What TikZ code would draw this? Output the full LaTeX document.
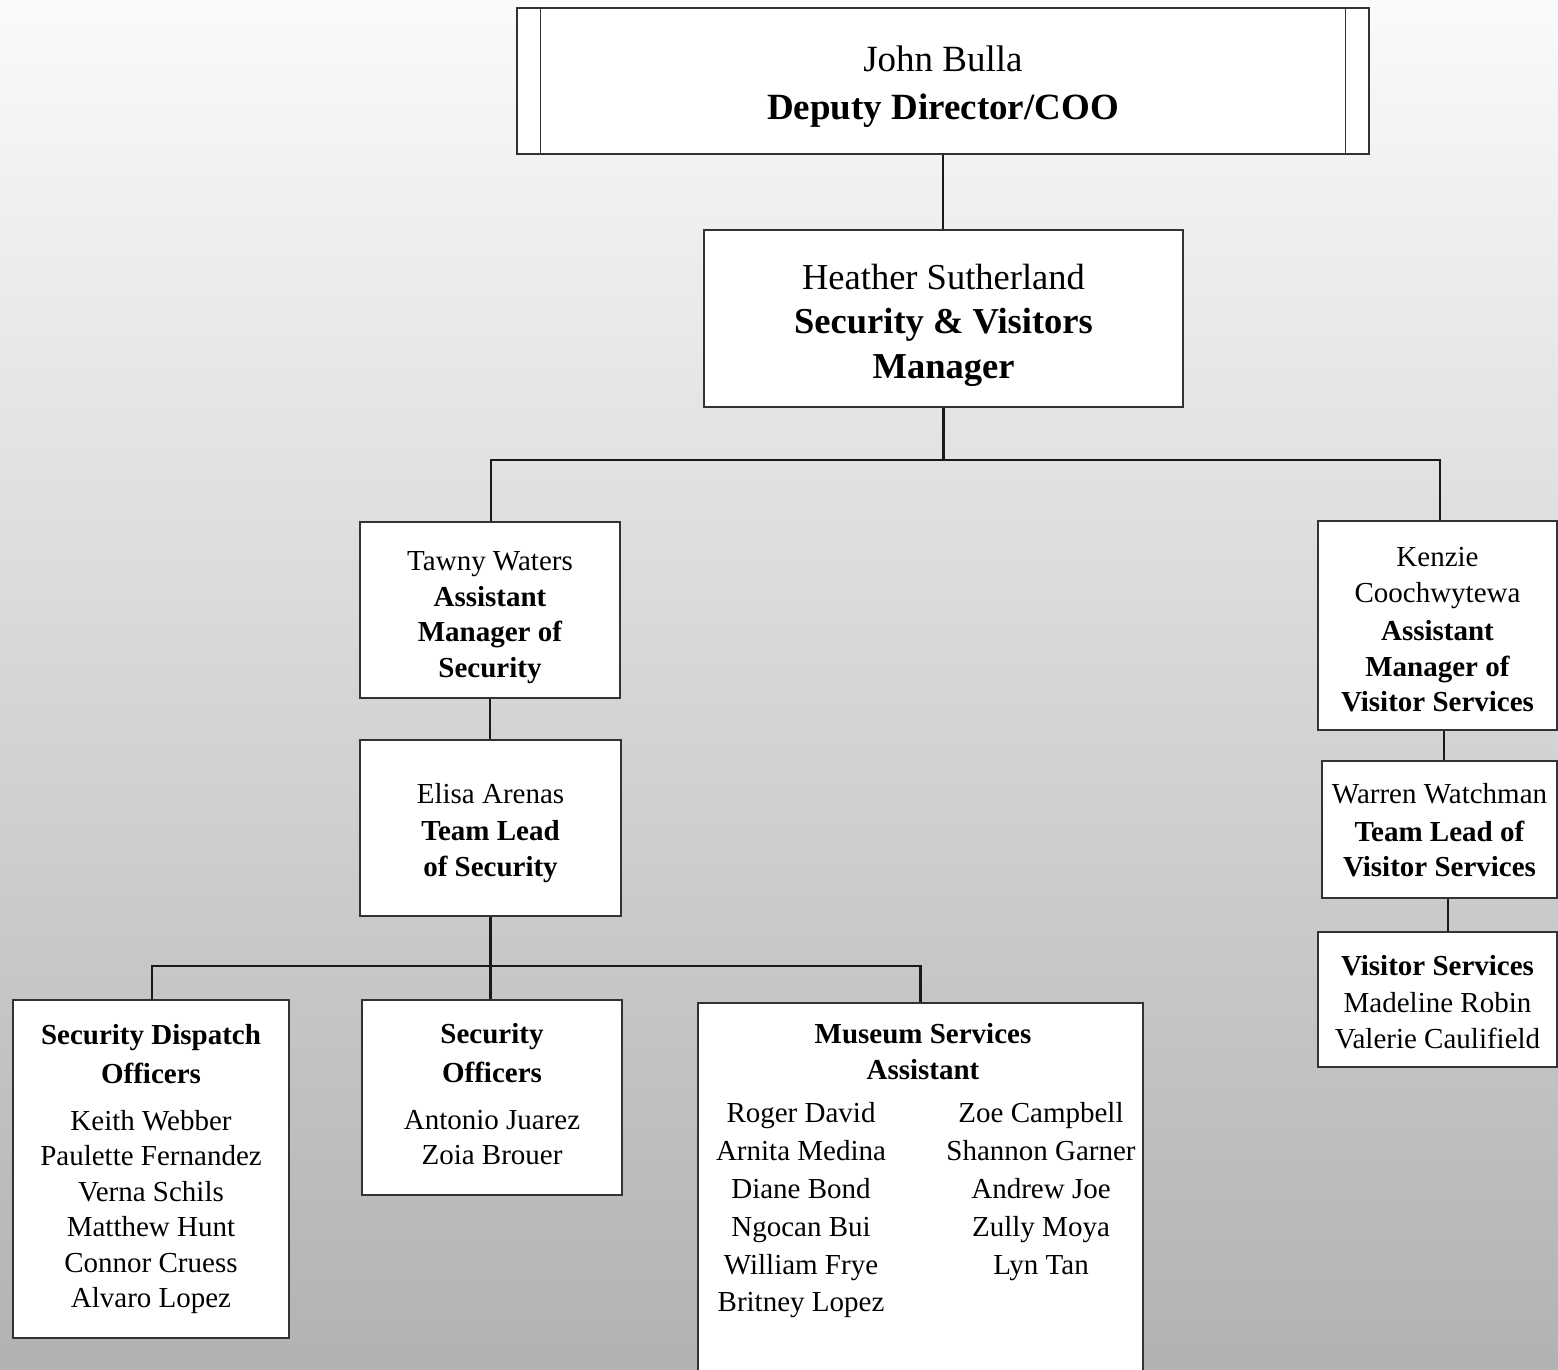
\documentclass[tikz,border=0pt]{standalone}
\usepackage{fontspec}
\setmainfont{Liberation Serif}
\usetikzlibrary{calc}
\newcommand\uprule[1]{\rule{0pt}{#1}}
\newcommand\dnrule[1]{\rule[-#1]{0pt}{0pt}}
\begin{document}
\begin{tikzpicture}[x=1pt,y=-1pt,
  box/.style={draw=black!80, line width=1.3pt, fill=white, align=center, inner sep=0pt,
              font=\fontsize{29}{35.5}\selectfont},
  plain/.style={align=center, inner sep=0pt},
  conn/.style={line width=2.2pt, draw=black!90},
  boxline/.style={line width=1.3pt, draw=black!80}]
\useasboundingbox (0,0) rectangle (1558,1369);
% background gradient
\foreach \i in {0,...,136}{
  \pgfmathsetmacro\p{2+28.2*\i/136}
  \fill[black!\p] (0,\i*10) rectangle (1558,\i*10+10.6);
}
% boxes
\node[box, minimum width=852pt, minimum height=146pt, font=\fontsize{37}{48}\selectfont] (john) at (943,81)
  {\uprule{37pt}John Bulla\\\textbf{Deputy Director/COO}};
\draw[boxline] ($(john.north west)+(24,0)$) -- ($(john.south west)+(24,0)$);
\draw[boxline] ($(john.north east)+(-24,0)$) -- ($(john.south east)+(-24,0)$);

\node[box, minimum width=479pt, minimum height=177pt, font=\fontsize{36.5}{44.5}\selectfont] (heather) at (943.5,318.5)
  {\uprule{39pt}Heather Sutherland\\\textbf{Security \& Visitors}\\\textbf{Manager}};

\node[box, minimum width=260pt, minimum height=176pt] (tawny) at (490,610)
  {\uprule{34pt}Tawny Waters\\\textbf{Assistant}\\\textbf{Manager of}\\\textbf{Security}};

\node[box, minimum width=261pt, minimum height=176pt] (elisa) at (490.5,828)
  {\uprule{30pt}Elisa Arenas\\[2pt]\textbf{Team Lead}\\\textbf{of Security}};

\node[box, minimum width=239pt, minimum height=209pt] (kenzie) at (1437.5,625.5)
  {\uprule{28pt}Kenzie\\Coochwytewa\\[3pt]\textbf{Assistant}\\\textbf{Manager of}\\\textbf{Visitor Services}};

\node[box, minimum width=235pt, minimum height=137pt] (warren) at (1439.5,829.5)
  {\uprule{22pt}Warren Watchman\\[2pt]\textbf{Team Lead of}\\\textbf{Visitor Services}};

\node[box, minimum width=239pt, minimum height=135pt] (visitor) at (1437.5,999.5)
  {\uprule{25pt}\textbf{Visitor Services}\\[2pt]Madeline Robin\\Valerie Caulifield};

\node[box, minimum width=276pt, minimum height=338pt] (dispatch) at (151,1169)
  {\textbf{Security Dispatch}\\[3.5pt]\textbf{Officers}\\[11.5pt]Keith Webber\\Paulette Fernandez\\Verna Schils\\Matthew Hunt\\Connor Cruess\\Alvaro Lopez};

\node[box, minimum width=260pt, minimum height=195pt] (secoff) at (492,1097.5)
  {\textbf{Security}\\[3.5pt]\textbf{Officers}\\[11.5pt]Antonio Juarez\\Zoia Brouer\dnrule{7pt}};

\node[box, minimum width=445pt, minimum height=397pt] (museum) at (920.5,1201.5) {};
\node[plain, anchor=north, font=\fontsize{29}{36}\selectfont] (mustitle) at (923,1023.5)
  {\textbf{Museum Services}\\\textbf{Assistant}};
\node[plain, anchor=north, font=\fontsize{29}{37.8}\selectfont] (musleft) at (801,1102.5)
  {Roger David\\Arnita Medina\\Diane Bond\\Ngocan Bui\\William Frye\\Britney Lopez};
\node[plain, anchor=north, font=\fontsize{29}{37.8}\selectfont] (musright) at (1041,1102.5)
  {Zoe Campbell\\Shannon Garner\\Andrew Joe\\Zully Moya\\Lyn Tan};

% connectors
\draw[conn] (john.south) -- (john.south |- heather.north);
\path (heather.south) ++(0,52) coordinate (j1);
\draw[conn] (heather.south) -- (j1);
\draw[conn] ([xshift=1pt]tawny.north) |- (j1) -| ([xshift=2.5pt]kenzie.north);
\draw[conn] (tawny.south) -- (tawny.south |- elisa.north);
\path (elisa.south) ++(0,49) coordinate (j2);
\draw[conn] (elisa.south) -- (j2);
\draw[conn] ([xshift=1pt]dispatch.north) |- (j2) -| (museum.north);
\draw[conn] (j2) -- (j2 |- secoff.north);
\draw[conn] ([xshift=6.5pt]kenzie.south) -- ([xshift=6.5pt]kenzie.south |- warren.north);
\draw[conn] ([xshift=8.5pt]warren.south) -- ([xshift=8.5pt]warren.south |- visitor.north);
\end{tikzpicture}
\end{document}
